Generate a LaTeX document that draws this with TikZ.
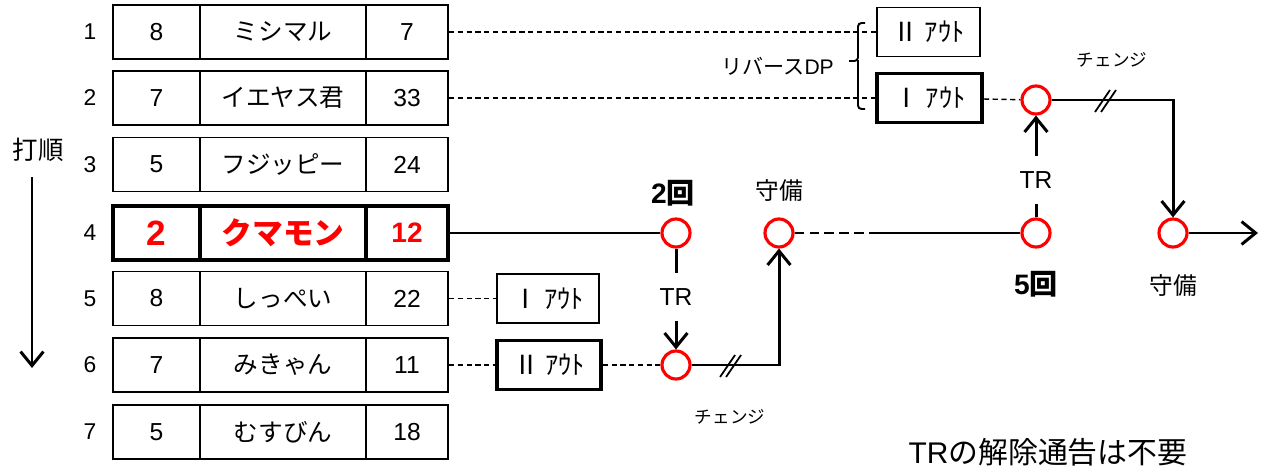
\documentclass[tikz,border=0pt]{standalone}
\usepackage{fontspec}
\setmainfont{Liberation Sans}
\newfontfamily\jp{Noto Sans CJK JP}
\usetikzlibrary{arrows.meta}
\tikzset{
  cell/.style={draw, line width=1.1pt, minimum height=1.08cm, inner sep=0pt, font=\fontsize{14}{16}\selectfont},
  wa/.style={cell, minimum width=1.74cm},
  wb/.style={cell, minimum width=3.32cm},
  wc/.style={cell, minimum width=1.64cm},
  hot/.style={line width=2.2pt, text=red, font=\fontsize{16}{18}\selectfont\bfseries},
  num/.style={font=\fontsize{13}{15}\selectfont},
  runner/.style={circle, draw=red, line width=1.8pt, minimum size=0.56cm, inner sep=0pt},
  outbox/.style={draw, line width=0.6pt, minimum width=2.06cm, minimum height=0.98cm, font=\jp\fontsize{15}{17}\selectfont},
  thickbox/.style={outbox, line width=2pt},
  trlbl/.style={inner sep=0pt, minimum height=0.96cm, font=\fontsize{14}{16}\selectfont},
  lbl/.style={font=\fontsize{13.5}{16}\selectfont},
  small/.style={font=\fontsize{10}{12}\selectfont},
  thin/.style={line width=0.8pt, dash pattern=on 3pt off 2pt},
  run/.style={line width=1.7pt},
  tip/.style={-{Straight Barb[length=8pt,width=13pt,line width=1.7pt]}},
}
\begin{document}
\begin{tikzpicture}[x=0.02cm, y=-0.02cm]
  \useasboundingbox (0,0) rectangle (1268,470);
  % batting order
  \node[num] (n1) at (90,32) {1};
  \node[wa] (a1) at (156.5,32) {8};
  \node[wb] (b1) at (283,32) {\jp ミシマル};
  \node[wc] (c1) at (407,32) {7};
  \node[num] (n2) at (90,98) {2};
  \node[wa] (a2) at (156.5,98) {7};
  \node[wb] (b2) at (283,98) {\jp イエヤス君};
  \node[wc] (c2) at (407,98) {33};
  \node[num] (n3) at (90,164.5) {3};
  \node[wa] (a3) at (156.5,164.5) {5};
  \node[wb] (b3) at (283,164.5) {\jp フジッピー};
  \node[wc] (c3) at (407,164.5) {24};
  \node[num] (n4) at (90,233) {4};
  \node[wa,hot] (a4) at (156.5,233) {\fontsize{20}{22}\selectfont 2};
  \node[wb,hot] (b4) at (283,233) {\jp\fontsize{17.5}{20}\selectfont クマモン};
  \node[wc,hot] (c4) at (407,233) {12};
  \node[num] (n5) at (90,298.5) {5};
  \node[wa] (a5) at (156.5,298.5) {8};
  \node[wb] (b5) at (283,298.5) {\jp しっぺい};
  \node[wc] (c5) at (407,298.5) {22};
  \node[num] (n6) at (90,365) {6};
  \node[wa] (a6) at (156.5,365) {7};
  \node[wb] (b6) at (283,365) {\jp みきゃん};
  \node[wc] (c6) at (407,365) {11};
  \node[num] (n7) at (90,432) {7};
  \node[wa] (a7) at (156.5,432) {5};
  \node[wb] (b7) at (283,432) {\jp むすびん};
  \node[wc] (c7) at (407,432) {18};
  \node[font=\jp\fontsize{14.5}{17}\selectfont] (dj) at (38,150) {打順};
  \coordinate (da) at (32,177);
  \coordinate (dz) at (32,368);
  \draw[run, tip] (da) -- (dz);

  % outs
  \node[outbox] (o2) at (928.5,32) {Ⅱ ｱｳﾄ};
  \node[thickbox, minimum width=2.1cm] (o1) at (929.5,98) {Ⅰ ｱｳﾄ};
  \node[outbox, minimum width=2.04cm] (q1) at (548,298.5) {Ⅰ ｱｳﾄ};
  \node[thickbox, minimum width=2.08cm] (q2) at (549,365) {Ⅱ ｱｳﾄ};
  \draw[line width=1.1pt, rounded corners=2pt] (865,23) -| (858,61) -- (849,61);
  \draw[line width=1.1pt, rounded corners=2pt] (858,60) |- (865,109);
  \node[font=\fontsize{12}{14}\selectfont, anchor=east] (rdp) at (840,66) {{\jp リバース}DP};

  % runners
  \node[runner] (p2) at (676,233) {};
  \node[runner] (pd) at (779,233) {};
  \node[runner] (p5) at (1036,233) {};
  \node[runner] (pf) at (1173,233) {};
  \node[runner] (pt) at (1036,100) {};
  \node[runner] (p6) at (676,365) {};
  \node[trlbl] (t1) at (676,297) {TR};
  \node[trlbl] (t2) at (1036,180) {TR};
  \node[font=\fontsize{16}{18}\selectfont\bfseries] (l2) at (673,193) {2\jp 回};
  \node[lbl] (ld) at (779,190) {\jp 守備};
  \node[font=\fontsize{16}{18}\selectfont\bfseries] (l5) at (1036,284) {5\jp 回};
  \node[lbl] (lf) at (1173,285) {\jp 守備};
  \node[small] (ch1) at (730,417) {\jp チェンジ};
  \node[small] (ch2) at (1112,60) {\jp チェンジ};
  \node[font=\fontsize{17}{20}\selectfont] (note) at (1048,452) {TR{\jp の解除通告は不要}};
  \coordinate (gap) at (878,233);
  \coordinate (go) at (1258,233);

  % connectors
  \draw[thin] (c1) -- (o2);
  \draw[thin] (c2) -- (o1);
  \draw[thin] (o1) -- (pt);
  \draw[thin] (c5) -- (q1);
  \draw[thin] (c6) -- (q2);
  \draw[thin] (q2) -- (p6);
  \draw[run] (c4) -- (p2);
  \draw[run] (p2) -- (t1);
  \draw[run, tip] (t1) -- (p6);
  \draw[run, tip] (p6) -- coordinate[pos=0.44] (s1) (pd |- p6) -- (pd);
  \draw[run, dash pattern=on 5.5pt off 3pt] (pd) -- (gap);
  \draw[run] (gap) -- (p5);
  \draw[run] (p5) -- (t2);
  \draw[run, tip] (t2) -- (pt);
  \draw[run, tip] (pt) -- coordinate[pos=0.44] (s2) (pf |- pt) -- (pf);
  \draw[run, tip] (pf) -- (go);
  \draw[line width=1pt] (s1) ++(-10,12) -- ++(15,-22) ++(-9,22) -- ++(15,-22);
  \draw[line width=1pt] (s2) ++(-10,12) -- ++(15,-22) ++(-9,22) -- ++(15,-22);
\end{tikzpicture}
\end{document}
